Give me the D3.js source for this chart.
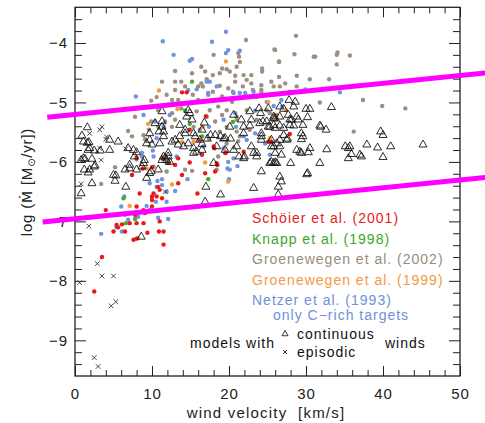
<!DOCTYPE html>
<html><head><meta charset="utf-8">
<script src="https://cdn.jsdelivr.net/npm/d3@7"></script>
<style>body{margin:0;background:#fff}svg{display:block}</style>
</head><body>
<svg id="chart" width="485" height="423"></svg>
<script>
// ---------------- data ----------------
const xTickLabels = [0, 10, 20, 30, 40, 50];
const xMinorTicks = [2,4,6,8,12,14,16,18,22,24,26,28,32,34,36,38,42,44,46,48];
const yTickLabels = [-9, -8, -7, -6, -5, -4];
const yMinorTicks = [-9.4,-9.2,-8.8,-8.6,-8.4,-8.2,-7.8,-7.6,-7.4,-7.2,-6.8,-6.6,-6.4,-6.2,-5.8,-5.6,-5.4,-5.2,-4.8,-4.6,-4.4,-4.2,-3.8,-3.6];

// [wind velocity km/s, log Mdot]
const groen2002 = [
[28.7,-3.88],[25.9,-4.11],[22.2,-3.95],[18.0,-4.20],[21.2,-4.17],[21.3,-4.23],[26.5,-4.31],[31.2,-4.23],[24.3,-4.43],[24.3,-4.48],[30.5,-4.61],[28.8,-4.73],[27.9,-4.82],[26.6,-4.73],[25.5,-4.65],[24.2,-4.71],[24.2,-4.79],[22.9,-4.68],[22.9,-4.54],[22.3,-4.62],[21.9,-4.54],[20.8,-4.55],[20.8,-4.65],[19.7,-4.44],[19.1,-4.43],[18.8,-4.51],[20.1,-4.48],[21.0,-4.40],[21.4,-4.32],[17.9,-4.54],[16.9,-4.48],[17.1,-4.61],[18.8,-4.72],[19.9,-4.76],[20.5,-4.82],[21.8,-4.73],[23.1,-4.79],[23.6,-4.91],[22.3,-4.90],[20.4,-4.99],[19.1,-4.90],[17.9,-4.82],[16.6,-4.73],[17.3,-4.87],[18.6,-5.07],[17.5,-5.13],[17.1,-5.24],[19.1,-5.21],[18.2,-5.32],[19.7,-5.13],[21.0,-5.29],[19.7,-5.41],[18.8,-5.49],[21.0,-5.49],[22.3,-5.13],[24.2,-4.82],[24.9,-5.13],[26.2,-5.21],
[13.0,-4.47],[11.3,-4.65],[15.2,-4.51],[16.4,-4.40],[9.9,-4.97],[10.6,-4.91],[7.8,-5.24],[6.9,-5.48],[8.9,-5.55],[11.9,-4.87],[13.0,-4.65],[13.8,-4.65],[14.3,-4.73],[13.0,-4.79],[12.1,-5.04],[12.6,-4.96],[13.4,-4.96],[13.8,-5.10],[12.6,-5.18],[11.7,-5.32],[13.0,-5.29],[10.8,-5.13],[16.0,-4.73],[16.0,-4.96],[16.4,-4.68],[15.3,-4.87],[15.8,-5.15],[10.8,-5.41],[12.6,-5.41],[9.9,-5.32],
[35.7,-4.21],[34.1,-4.16],[34.0,-4.20],[34.0,-4.36],[33.0,-4.61],[37.4,-4.96],[39.9,-5.06],[42.9,-5.10],[36.2,-5.49],[26.0,-4.12],[28.5,-4.19],[26.5,-4.32],[31.0,-4.23],[31.8,-5.00],[26.5,-4.57],[27.3,-4.68],[28.8,-4.55],[25.8,-4.73],
[5.2,-6.09],[3.4,-6.37],[8.0,-5.96],[15.2,-6.15],[9.1,-5.62],[18.6,-5.91],[17.4,-5.61],[21.2,-5.65],[9.6,-5.46],[7.4,-5.57],[15.4,-5.41],[16.2,-5.46],[14.3,-6.13],[11.9,-6.16],[10.2,-6.08],[18.4,-6.13],[19.7,-5.69],[21.4,-5.57],[22.7,-5.46],[23.6,-5.29],[25.3,-5.18],[21.0,-5.24]
];

const netzer = [
[11.4,-3.97],[12.8,-4.20],[14.9,-4.30],[15.2,-4.27],[7.9,-4.90],[8.9,-5.21],[10.4,-5.32],[11.5,-5.41],[14.7,-4.79],[15.8,-4.78],[10.6,-5.60],
[19.6,-3.81],[17.8,-3.98],[19.9,-4.12],[21.4,-4.13],[19.6,-4.17],[17.1,-4.65],[17.5,-4.65],[17.3,-4.84],[18.4,-4.73],[20.6,-4.84],[21.4,-4.84],[22.1,-4.84],[23.2,-4.82],[20.8,-5.18],[23.4,-5.14],[24.9,-4.99],[20.9,-5.41],[17.4,-5.41],[19.3,-5.29],
[34.4,-4.83],[29.9,-4.78],[25.8,-5.06],[26.8,-4.96],[26.9,-5.07],
[8.7,-5.85],[10.1,-5.81],[10.7,-6.32],[11.3,-6.29],[13.0,-6.49],[11.9,-6.50],[6.4,-6.58],[6.0,-6.75],[10.6,-6.42],[3.4,-7.21],[6.5,-6.89],[9.7,-6.81],[6.1,-7.17],
[5.4,-7.10],[6.9,-6.97],[10.8,-6.94],[12.1,-6.96],[11.9,-6.67],[10.5,-6.67],[9.3,-6.74],[11.3,-6.39],[9.7,-6.36],[8.2,-6.92],[14.6,-6.29],
[22.3,-5.63],[19.8,-6.11],[20.0,-6.29],[21.1,-6.07],[19.3,-5.77],[19.9,-6.00],
[12.3,-5.21],[13.2,-5.91],[16.7,-5.74],[20.6,-5.94],[21.9,-5.57],[23.4,-5.52],[24.7,-5.69],[25.3,-5.88],[10.2,-5.91],[8.7,-5.91],[20.1,-6.13]
];

const groen1999 = [[10.9,-4.80],[19.6,-4.31],[27.4,-5.13],[25.1,-4.99],[16.6,-5.41],[9.5,-5.36],[13.3,-5.11],[16.9,-6.01],[25.3,-5.60],[26.0,-5.25],[12.6,-6.38],[7.1,-6.74],[9.3,-6.11],[8.2,-7.28],[15.4,-5.66],[13.9,-5.67],[19.9,-6.33]];

const knapp = [[15.2,-4.65],[14.3,-5.14],[14.9,-5.36],[16.5,-5.57],[20.5,-5.33],[17.3,-6.29],[11.9,-6.02],[6.3,-6.61],[7.8,-6.96],[6.6,-7.03]];

const schoier = [
[13.9,-4.83],[14.5,-4.83],[17.0,-5.23],[14.9,-5.46],[25.1,-5.66],[25.5,-5.66],[18.0,-5.74],[16.5,-5.88],[19.5,-5.85],[21.9,-5.83],[18.4,-6.02],[16.9,-6.19],[13.9,-6.22],[13.0,-6.05],[12.2,-6.02],[11.5,-5.94],[7.4,-6.22],[18.2,-6.16],[27.9,-5.53],
[8.0,-5.93],[8.8,-6.11],[10.0,-6.09],[10.8,-6.42],[11.0,-6.47],[10.2,-6.53],[10.0,-6.58],[10.6,-6.58],[10.0,-6.64],[10.0,-6.75],[8.0,-6.75],[8.9,-6.81],[7.8,-6.89],[9.1,-6.86],[11.0,-7.00],[8.9,-7.03],[8.0,-7.03],[7.1,-7.03],[6.1,-7.05],[5.4,-7.06],[5.6,-7.10],[5.0,-7.17],[6.5,-7.17],[10.9,-7.17],[11.5,-7.17],[7.6,-7.31],[8.0,-7.29],[11.5,-7.39],[4.0,-6.81],[13.4,-5.94],[14.9,-6.01],[16.1,-5.63],
[3.5,-7.60],[2.5,-8.18],[18.1,-5.77],[18.5,-6.05],[19.6,-5.84],[9.4,-7.19],[15.9,-6.53],[13.4,-6.36],[11.3,-6.61],[8.4,-6.53]
];

const modelsContinuous = [
[1.6,-5.42],[0.9,-5.56],[1.6,-5.68],[1.1,-5.66],[1.9,-5.77],[2.5,-5.81],[0.8,-5.97],[1.3,-5.95],[1.2,-6.13],[1.7,-6.18],[2.6,-6.06],[2.2,-6.36],[0.8,-6.53],[1.1,-5.94],
[1.8,-5.67],[1.7,-5.80],[2.2,-5.95],[3.3,-5.81],[2.5,-6.08],[1.9,-6.13],[4.5,-5.80],[7.6,-5.80],[8.0,-5.84],[7.7,-5.91],[9.0,-5.97],[8.9,-6.02],[8.7,-6.08],[6.5,-6.13],[7.1,-6.11],[5.3,-6.23],[5.2,-6.32],[6.6,-6.42],[9.3,-6.27],[9.9,-6.16],[11.7,-5.93],[12.1,-5.85],[12.6,-5.66],[13.0,-5.63],[16.5,-5.70],[16.5,-5.80],[15.4,-5.77],[8.6,-7.26],[4.5,-5.63],[5.6,-5.66],
[6.9,-5.77],[5.0,-6.22],[7.1,-6.05],[8.0,-6.13],[9.7,-6.19],
[10.4,-5.35],[11.3,-5.41],[10.9,-5.49],[9.7,-5.52],[11.5,-5.57],[9.7,-5.63],[10.0,-5.71],[9.3,-5.69],[11.0,-5.69],[11.5,-5.91],[12.1,-5.91],[11.3,-5.97],[11.9,-5.97],[12.3,-6.00],[10.8,-6.13],[14.5,-5.24],[14.9,-5.18],[14.7,-5.13],[13.6,-5.38],[14.3,-5.52],[13.6,-5.57],[13.4,-5.71],[14.7,-5.69],[15.6,-5.57],[15.4,-5.85],[15.8,-5.83],[14.1,-5.74],[16.2,-5.63],[18.2,-5.55],[18.4,-5.74],[19.5,-5.60],[20.6,-5.21],[20.1,-5.41],[20.6,-5.80],[21.0,-5.74],[21.9,-5.41],[21.9,-5.52],[22.9,-5.74],[23.6,-5.85],[23.9,-5.10],[24.1,-5.18],[24.0,-5.35],[24.9,-5.32],[25.1,-5.41],[25.8,-5.24],[26.0,-5.43],[24.2,-5.52],[24.2,-5.63],[25.3,-6.02],[25.8,-6.02],[24.2,-6.16],[21.9,-5.94],[19.5,-5.80],[18.0,-6.02],
[11.3,-5.15],[11.3,-5.32],[14.3,-5.46],[15.2,-5.29],[15.4,-5.52],[16.5,-5.46],[11.5,-5.49],
[25.1,-5.10],[27.8,-4.96],[28.6,-4.99],[26.6,-5.07],[30.0,-5.11],[30.2,-5.25],[31.9,-5.41],[32.6,-5.46],[22.7,-5.15],[25.8,-5.27],[21.6,-5.29],[22.9,-5.29],[24.4,-5.32],[25.3,-5.41],[26.6,-5.39],[27.9,-5.29],[28.8,-5.24],[22.7,-5.39],[18.9,-5.57],[17.6,-5.55],[16.8,-5.34],
[28.4,-5.07],[30.5,-5.11],[33.3,-5.08],[27.1,-5.11],[26.0,-5.27],[26.6,-5.24],[27.7,-5.21],[28.1,-5.29],[29.0,-5.29],[25.8,-5.38],[27.1,-5.43],[27.9,-5.38],[28.4,-5.39],[29.6,-5.38],[29.4,-5.52],[29.6,-5.57],[29.4,-5.62],[31.8,-5.39],[39.7,-5.49],[40.0,-5.55],[27.1,-5.55],[27.5,-5.63],[25.5,-5.63],[26.2,-5.69],[25.8,-5.74],[26.6,-5.74],[28.8,-5.80],[29.2,-5.83],[30.3,-5.84],[30.5,-5.77],[32.7,-5.79],[35.1,-5.74],[35.5,-5.77],[35.7,-5.74],[35.9,-5.87],[35.5,-5.94],[37.0,-5.88],[37.2,-5.91],[37.9,-5.71],[39.3,-5.76],[40.0,-5.92],[41.0,-5.74],[45.2,-5.71],[26.8,-5.88],[26.0,-6.01],[28.0,-6.02],[31.8,-6.02],[30.2,-6.19],[26.6,-6.25],
[17.2,-5.61],[19.3,-5.61],[20.2,-5.61],[24.2,-5.57],[26.6,-5.63],[27.6,-5.61],[25.5,-5.74],[23.2,-5.85],[23.6,-5.91],[21.3,-5.91],[22.0,-5.91],[26.0,-5.85],[29.4,-5.85],[25.5,-6.00],[26.2,-6.02],[26.8,-6.33],[26.4,-6.42],[30.1,-6.21],[23.2,-6.44],[18.9,-6.55],[17.0,-6.42],[16.9,-6.67],[26.4,-6.55]
];

const modelsEpisodic = [
[3.5,-5.41],[3.2,-5.46],[4.1,-5.58],[4.0,-5.62],[3.2,-5.77],[1.9,-5.52],[2.9,-5.81],[3.4,-5.97],[0.8,-6.37],[1.8,-7.08],[2.9,-7.71],[3.5,-7.92],[5.0,-7.92],[0.6,-8.03],[4.7,-8.42],[5.3,-8.35],[2.5,-9.29],[3.0,-9.44],[6.6,-5.78],[11.7,-6.50]
];

// limit lines [velocity, log Mdot] end points
const upperLine = [[-3.6,-5.25],[53.5,-4.50]];
const lowerLine = [[-4.2,-7.01],[53.5,-6.26]];

const legendEntries = [
  {label:"Schöier et al. (2001)", color:"#e41a1c"},
  {label:"Knapp et al. (1998)", color:"#3ca42a"},
  {label:"Groenewegen et al. (2002)", color:"#978b7d"},
  {label:"Groenewegen et al. (1999)", color:"#f39a44"},
  {label:"Netzer et al. (1993)", color:"#6f90da"}
];

// ---------------- drawing ----------------
const svg = d3.select("#chart");
const W = 485, H = 423;
const pLeft = 75, pRight = 460, pTop = 7.3, pBottom = 376;
const x = d3.scaleLinear().domain([0, 50]).range([pLeft, pRight]);
const y = d3.scaleLinear().domain([-9.6, -3.4]).range([pBottom, pTop]);
const font = "'Liberation Sans', Arial, 'DejaVu Sans', sans-serif";

svg.append("rect").attr("width", W).attr("height", H).attr("fill", "#fff");

function dots(data, color) {
  svg.append("g").selectAll("circle").data(data).join("circle")
    .attr("cx", d => x(d[0])).attr("cy", d => y(d[1])).attr("r", 2.2)
    .attr("fill", color);
}
dots(groen2002, "#9c8f80");
dots(netzer, "#6e93df");
dots(groen1999, "#f59a3e");
dots(knapp, "#3fae2a");
dots(schoier, "#e8191b");

const tri = d3.symbol(d3.symbolTriangle, 28);
svg.append("g").selectAll("path").data(modelsContinuous).join("path")
  .attr("d", tri).attr("transform", d => `translate(${x(d[0])},${y(d[1])})`)
  .attr("fill", "none").attr("stroke", "#151515").attr("stroke-width", 0.9);

const crossPath = "M-2.3,-2.3L2.3,2.3M-2.3,2.3L2.3,-2.3";
svg.append("g").selectAll("path").data(modelsEpisodic).join("path")
  .attr("d", crossPath).attr("transform", d => `translate(${x(d[0])},${y(d[1])})`)
  .attr("fill", "none").attr("stroke", "#333").attr("stroke-width", 0.9);

// axes
function styleAxis(g) {
  g.select(".domain").remove();
  g.selectAll("line").attr("stroke", "#222").attr("stroke-width", 1);
  g.selectAll("text").attr("font-family", font).attr("font-size", 15)
    .attr("fill", "#222").attr("letter-spacing", 1);
}
const fmt = d3.format("d");
svg.append("g").attr("transform", `translate(0,${pBottom})`)
  .call(d3.axisBottom(x).tickValues(xTickLabels).tickSize(-10).tickPadding(12).tickFormat(fmt)).call(styleAxis);
svg.append("g").attr("transform", `translate(0,${pBottom})`)
  .call(d3.axisBottom(x).tickValues(xMinorTicks).tickSize(-6).tickFormat("")).call(styleAxis);
svg.append("g").attr("transform", `translate(0,${pTop})`)
  .call(d3.axisTop(x).tickValues(xTickLabels).tickSize(-10).tickFormat("")).call(styleAxis);
svg.append("g").attr("transform", `translate(0,${pTop})`)
  .call(d3.axisTop(x).tickValues(xMinorTicks).tickSize(-6).tickFormat("")).call(styleAxis);
svg.append("g").attr("transform", `translate(${pLeft},0)`)
  .call(d3.axisLeft(y).tickValues(yTickLabels).tickSize(-11).tickPadding(7).tickFormat(fmt)).call(styleAxis);
svg.append("g").attr("transform", `translate(${pLeft},0)`)
  .call(d3.axisLeft(y).tickValues(yMinorTicks).tickSize(-7).tickFormat("")).call(styleAxis);
svg.append("g").attr("transform", `translate(${pRight},0)`)
  .call(d3.axisRight(y).tickValues(yTickLabels).tickSize(-11).tickFormat("")).call(styleAxis);
svg.append("g").attr("transform", `translate(${pRight},0)`)
  .call(d3.axisRight(y).tickValues(yMinorTicks).tickSize(-7).tickFormat("")).call(styleAxis);

svg.append("rect").attr("x", pLeft).attr("y", pTop).attr("width", pRight - pLeft).attr("height", pBottom - pTop)
  .attr("fill", "none").attr("stroke", "#222").attr("stroke-width", 1.3);

// limit lines
const line = d3.line().x(d => x(d[0])).y(d => y(d[1]));
[upperLine, lowerLine].forEach(l => {
  svg.append("path").attr("d", line(l)).attr("stroke", "#ff00ff").attr("stroke-width", 5)
    .attr("fill", "none");
});

// axis titles
svg.append("text").attr("x", 266).attr("y", 418).attr("text-anchor", "middle")
  .attr("font-family", font).attr("font-size", 15).attr("letter-spacing", 1.2).attr("fill", "#222")
  .style("white-space", "pre").text("wind velocity  [km/s]");

const yt = svg.append("text").attr("transform", "translate(32,182) rotate(-90)")
  .attr("text-anchor", "middle").attr("font-family", font).attr("font-size", 15)
  .attr("letter-spacing", 0.8).attr("fill", "#222").style("white-space", "pre");
yt.append("tspan").text("log (");
yt.append("tspan").attr("font-family", "'DejaVu Sans', sans-serif").attr("font-size", 14).text("Ṁ");
yt.append("tspan").text(" [M");
yt.append("tspan").attr("font-size", 10).attr("dy", 3).text("⊙");
yt.append("tspan").attr("dy", -3).text("/yr])");

// legend
const legY = [223, 243.5, 264, 285, 305];
legendEntries.forEach((e, i) => {
  svg.append("text").attr("x", 252).attr("y", legY[i])
    .attr("font-family", font).attr("font-size", 14).attr("letter-spacing", 1)
    .attr("fill", e.color).text(e.label);
});
svg.append("text").attr("x", 273).attr("y", 320)
  .attr("font-family", font).attr("font-size", 14).attr("letter-spacing", 1)
  .attr("fill", "#6f90da").text("only C\u2212rich targets");

svg.append("text").attr("x", 190).attr("y", 347.5)
  .attr("font-family", font).attr("font-size", 14).attr("letter-spacing", 1)
  .attr("fill", "#111").text("models with");
svg.append("path").attr("d", d3.symbol(d3.symbolTriangle, 16)).attr("transform", "translate(285,334)")
  .attr("fill", "none").attr("stroke", "#222").attr("stroke-width", 0.9);
svg.append("path").attr("d", "M-2,-2L2,2M-2,2L2,-2").attr("transform", "translate(285,352)")
  .attr("fill", "none").attr("stroke", "#222").attr("stroke-width", 0.9);
svg.append("text").attr("x", 297).attr("y", 339)
  .attr("font-family", font).attr("font-size", 14).attr("letter-spacing", 1)
  .attr("fill", "#111").text("continuous");
svg.append("text").attr("x", 297).attr("y", 357)
  .attr("font-family", font).attr("font-size", 14).attr("letter-spacing", 1)
  .attr("fill", "#111").text("episodic");
svg.append("text").attr("x", 385).attr("y", 347.5)
  .attr("font-family", font).attr("font-size", 14).attr("letter-spacing", 1)
  .attr("fill", "#111").text("winds");
</script>
</body></html>
